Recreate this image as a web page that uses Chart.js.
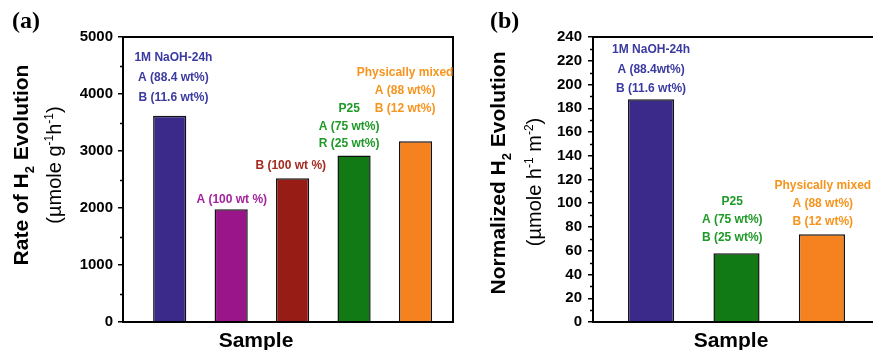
<!DOCTYPE html>
<html>
<head>
<meta charset="utf-8">
<script src="https://cdn.jsdelivr.net/npm/chart.js@4.4.1/dist/chart.umd.min.js"></script>
<style>
body{margin:0;background:#fff;overflow:hidden;width:873px;height:350px;position:relative;}
canvas{position:absolute;top:0;}
#rateChart{left:0;}
#normChart{left:470px;}
</style>
</head>
<body>
<canvas id="rateChart" width="470" height="350"></canvas>
<canvas id="normChart" width="430" height="350"></canvas>
<script>
// DATA
// panel (a): rate of H2 evolution
const rateSamples= ['1M NaOH-24h', 'A (100 wt %)', 'B (100 wt %)', 'P25', 'Physically mixed'];
const rateValues= [3620, 1980, 2520, 2920, 3170];
const rateTicks= [0, 1000, 2000, 3000, 4000, 5000];
const rateNotes= [
    ['1M NaOH-24h', 'A (88.4 wt%)', 'B (11.6 wt%)'],
    ['A (100 wt %)'],
    ['B (100 wt %)'],
    ['P25', 'A (75 wt%)', 'R (25 wt%)'],
    ['Physically mixed', 'A (88 wt%)', 'B (12 wt%)'],
];
// panel (b): normalized H2 evolution
const normSamples= ['1M NaOH-24h', 'P25', 'Physically mixed'];
const normValues= [187.5, 58, 74];
const normTicks= [0, 20, 40, 60, 80, 100, 120, 140, 160, 180, 200, 220, 240];
const normNotes= [
    ['1M NaOH-24h', 'A (88.4wt%)', 'B (11.6 wt%)'],
    ['P25', 'A (75 wt%)', 'B (25 wt%)'],
    ['Physically mixed', 'A (88 wt%)', 'B (12 wt%)'],
];

// STYLES / LAYOUT
const NAVY= '#3b2a8a', PURPLE= '#9b158a', RED= '#981c16', GREEN= '#117a14', ORANGE= '#f5821f';
const rateColors= [NAVY, PURPLE, RED, GREEN, ORANGE];
const normColors= [NAVY, GREEN, ORANGE];
const rateNoteColors= ['#3b3aa0', '#a3239c', '#a52a1f', '#1f9a28', '#f7941d'];
const normNoteColors= ['#3b3aa0', '#1f9a28', '#f7941d'];
// where each annotation sits (x in sample index, y in axis units of the first line)
const rateNoteSpots= [{x:0.06, y:4637, lh:19.9}, {x:1.01, y:2140, lh:18}, {x:1.97, y:2742, lh:18}, {x:2.92, y:3737, lh:17.5}, {x:3.83, y:4381, lh:18}];
const normNoteSpots= [{x:0, y:229, lh:19.5}, {x:0.95, y:101.3, lh:18}, {x:2.01, y:114.8, lh:18}];

const SANS= '"Liberation Sans", Arial, sans-serif';

function drawRich(ctx, parts, x, y, size, weight, rotate){
    // draws text with sub/superscripts, centered on (x,y) along its direction, baseline at y (or x when rotated)
    ctx.save();
    ctx.translate(x, y);
    if(rotate) ctx.rotate(-Math.PI/2);
    const small= Math.round(size*0.62);
    const fontOf= k => `${weight} ${k? small: size}px ${SANS}`;
    let w= 0;
    parts.forEach(([t, k])=>{ ctx.font= fontOf(k); w+= ctx.measureText(t).width; });
    let cx= -w/2;
    ctx.textAlign= 'left';
    ctx.textBaseline= 'alphabetic';
    ctx.fillStyle= '#000';
    parts.forEach(([t, k])=>{
        ctx.font= fontOf(k);
        const dy= (k==='sub')? size*0.28 : (k==='sup')? -size*0.42 : 0;
        ctx.fillText(t, cx, dy);
        cx+= ctx.measureText(t).width;
    });
    ctx.restore();
}

const decoPlugin= {
    id: 'deco',
    afterDraw(chart, args, opts){
        const ctx= chart.ctx, area= chart.chartArea;
        const xs= chart.scales.x, ys= chart.scales.y;
        ctx.save();

        // minor ticks (outward, shorter than the major ones)
        ctx.strokeStyle= '#000';
        ctx.lineWidth= 1.5;
        for(let v= opts.minorStep; v< ys.max; v+= opts.minorStep*2){
            const py= Math.round(ys.getPixelForValue(v))+0.5;
            ctx.beginPath();
            ctx.moveTo(area.left-3, py);
            ctx.lineTo(area.left, py);
            ctx.stroke();
        }

        // frame round the plot
        ctx.lineWidth= 2;
        ctx.strokeRect(area.left, area.top, area.right-area.left, area.bottom-area.top);

        // annotations above the bars
        ctx.font= `bold 12px ${SANS}`;
        ctx.textAlign= 'center';
        ctx.textBaseline= 'middle';
        opts.notes.forEach((lines, i)=>{
            const spot= opts.spots[i];
            const px= xs.getPixelForValue(spot.x);
            const py= ys.getPixelForValue(spot.y);
            ctx.fillStyle= opts.noteColors[i];
            lines.forEach((line, j)=> ctx.fillText(line, px, py + j*spot.lh));
        });

        // panel letter
        ctx.fillStyle= '#000';
        ctx.textAlign= 'left';
        ctx.textBaseline= 'alphabetic';
        ctx.font= `bold 24px "Liberation Serif", "Times New Roman", serif`;
        ctx.fillText(opts.letter.text, opts.letter.x, 28);

        // x title
        ctx.textAlign= 'center';
        ctx.font= `bold 21px ${SANS}`;
        ctx.fillText('Sample', opts.sampleX, 347);

        // y titles (two lines)
        drawRich(ctx, opts.title1, opts.title1Pos.x, opts.title1Pos.y, 21, 'bold', true);
        drawRich(ctx, opts.title2, opts.title2Pos.x, opts.title2Pos.y, 20, 'normal', true);

        ctx.restore();
    }
};

const makeChart= function(canvasId, values, colors, ticks, cfg){
    return new Chart(document.getElementById(canvasId), {
        type: 'bar',
        data: {
            datasets: [{
                data: values.map((v, i)=> ({x: i, y: v})),
                backgroundColor: colors,
                borderColor: '#111',
                borderWidth: 1.5,
                categoryPercentage: 1,
                barPercentage: 0.54,
            }],
        },
        options: {
            responsive: false,
            animation: false,
            events: [],
            layout: { padding: { left: 0, right: cfg.padRight, top: 37, bottom: 28 } },
            scales: {
                x: {
                    type: 'linear',
                    min: cfg.xMin,
                    max: cfg.xMax,
                    offset: false,
                    display: false,
                    // one tick per sample so the bar width follows the sample spacing
                    afterBuildTicks: s=> { s.ticks= values.map((v, i)=> ({value: i})); },
                },
                y: {
                    min: 0,
                    max: ticks[ticks.length-1],
                    afterBuildTicks: s=> { s.ticks= ticks.map(v=> ({value: v})); },
                    afterFit: s=> { s.width= 123; },
                    grid: { drawOnChartArea: false, drawTicks: true, tickLength: 5, color: '#000', lineWidth: 1.5 },
                    border: { display: false },
                    ticks: {
                        color: '#000',
                        padding: cfg.tickPad,
                        font: { family: SANS, weight: 'bold', size: 15 },
                        callback: v=> String(v),
                    },
                },
            },
            plugins: {
                legend: { display: false },
                tooltip: { enabled: false },
                deco: cfg.deco,
            },
        },
        plugins: [decoPlugin],
    });
};

makeChart('rateChart', rateValues, rateColors, rateTicks, {
    xMin: -0.76, xMax: 4.61, padRight: 17, tickPad: 5,
    deco: {
        minorStep: 500,
        notes: rateNotes, spots: rateNoteSpots, noteColors: rateNoteColors,
        letter: {text: '(a)', x: 12},
        sampleX: 256,
        title1: [['Rate of H'], ['2', 'sub'], [' Evolution']],
        title1Pos: {x: 28, y: 165},
        title2: [['(\u00b5mole g'], ['-1', 'sup'], ['h'], ['-1', 'sup'], [')']],
        title2Pos: {x: 61, y: 165},
    },
});

makeChart('normChart', normValues, normColors, normTicks, {
    xMin: -0.68, xMax: 2.68, padRight: 20, tickPad: 6,
    deco: {
        minorStep: 10,
        notes: normNotes, spots: normNoteSpots, noteColors: normNoteColors,
        letter: {text: '(b)', x: 20},
        sampleX: 261,
        title1: [['Normalized H'], ['2', 'sub'], [' Evolution']],
        title1Pos: {x: 35, y: 173},
        title2: [['(\u00b5mole h'], ['-1', 'sup'], [' m'], ['-2', 'sup'], [')']],
        title2Pos: {x: 71, y: 182},
    },
});
</script>
</body>
</html>
